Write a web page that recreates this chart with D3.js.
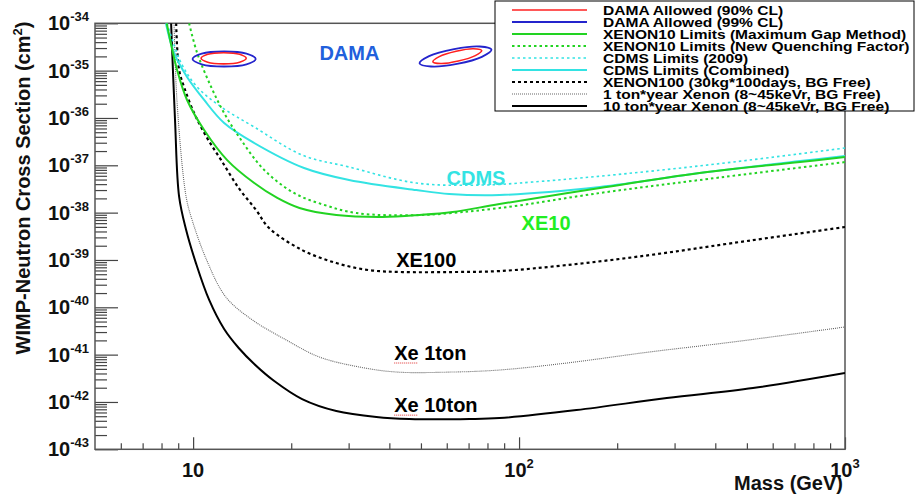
<!DOCTYPE html>
<html><head><meta charset="utf-8">
<script src="https://cdn.jsdelivr.net/npm/d3@7"></script>
<style>
body{margin:0;background:#fff}
svg{display:block;font-family:"Liberation Sans",Arial,Helvetica,sans-serif}
</style>
</head><body>
<svg id="chart" width="917" height="496"></svg>
<script>
// ---------- data (mass in GeV, cross section in cm^2) ----------
const massMajorTicks = [10, 100, 1000];
const massMinorTicks = [6,7,8,9,20,30,40,50,60,70,80,90,200,300,400,500,600,700,800,900];
const massTickLabels = [["10",""],["10","2"],["10","3"]];
const sigmaExponents = [-43,-42,-41,-40,-39,-38,-37,-36,-35,-34];
const sigmaMinorMultipliers = [2,3,4,5,6,7,8,9];

const damaLow90 = [[10.58,1.822e-35],[11.09,2.213e-35],[12.41,2.392e-35],[13.89,2.213e-35],[14.55,1.822e-35],[13.89,1.500e-35],[12.41,1.388e-35],[11.09,1.500e-35]];
const damaLow99 = [[9.96,1.761e-35],[10.63,2.279e-35],[12.45,2.536e-35],[14.58,2.279e-35],[15.56,1.761e-35],[14.58,1.360e-35],[12.45,1.223e-35],[10.63,1.360e-35]];
const damaHigh90 = [[76.8,2.663e-35],[73.4,2.078e-35],[65.1,1.598e-35],[57.5,1.415e-35],[54.4,1.544e-35],[56.9,1.979e-35],[64.1,2.574e-35],[72.5,2.905e-35]];
const damaHigh99 = [[82.3,2.768e-35],[76.9,1.950e-35],[64.5,1.388e-35],[53.7,1.223e-35],[49.5,1.429e-35],[52.95,2.028e-35],[63.2,2.850e-35],[75.8,3.235e-35]];

const xenon10MaxGap = [[8.3,1e-34],[8.93,1.03e-35],[9.58,2.40e-36],[10.81,5.57e-37],[12.72,1.29e-37],[15.4,4.22e-38],[18.12,2.04e-38],[21.2,1.25e-38],[27.5,8.9e-39],[38.1,8.1e-39],[49.5,8.9e-39],[62.5,1.03e-38],[87.1,1.52e-38],[177,3.31e-38],[358,6.87e-38],[728,1.17e-37],[1000,1.50e-37]];
const xenon10NewQF = [[9.72,1e-34],[10.29,2.36e-35],[11.36,4.51e-36],[12.45,1.27e-36],[14.04,3.42e-37],[16.53,7.94e-38],[20.4,2.60e-38],[25.3,1.45e-38],[31.7,9.8e-39],[49.5,8.9e-39],[87.1,1.25e-38],[177,2.60e-38],[358,4.89e-38],[1000,1.17e-37]];
const cdms2009 = [[8.32,1e-34],[9.19,1.45e-35],[10.29,4.51e-36],[12.19,1.71e-36],[15.4,6.44e-37],[21.6,1.65e-37],[30.1,9.2e-38],[48.4,4.22e-38],[77.3,3.83e-38],[110,4.43e-38],[223,6.87e-38],[453,1.17e-37],[1000,2.32e-37]];
const cdmsCombined = [[8.25,1e-34],[8.74,2.36e-35],[9.58,7.33e-36],[10.81,2.40e-36],[12.45,7.82e-37],[15.4,2.96e-37],[21.9,8.77e-38],[30.1,4.89e-38],[48.4,3.00e-38],[61.1,2.48e-38],[87.1,2.36e-38],[177,3.48e-38],[358,6.87e-38],[728,1.23e-37],[1000,1.57e-37]];
const xenon100 = [[8.87,1e-34],[9.06,1.03e-35],[9.38,4.51e-36],[10.07,1.27e-36],[11.04,3.77e-37],[12.19,1.29e-37],[13.8,3.31e-38],[15.6,1.14e-38],[17.1,4.73e-39],[21.6,1.62e-39],[27.5,8.6e-40],[34.7,6.1e-40],[43.9,5.56e-40],[62.5,5.56e-40],[87.1,5.83e-40],[140,7.8e-40],[252,1.27e-39],[453,2.28e-39],[1000,4.97e-39]];
const oneTonXenon = [[8.74,1e-34],[8.93,2.07e-36],[9.52,2.14e-38],[9.93,6.98e-39],[11.0,1.0e-39],[12.6,1.65e-40],[15.2,5.4e-41],[19.3,2.04e-41],[24.4,8.9e-42],[32.4,5.47e-42],[42.0,4.29e-42],[62.5,4.29e-42],[87.1,4.73e-42],[140,6.65e-42],[252,1.14e-41],[453,1.85e-41],[1000,3.84e-41]];
const tenTonXenon = [[8.56,1e-34],[8.80,9.06e-37],[9.06,2.14e-38],[9.52,4.29e-39],[10.2,8.6e-40],[11.2,1.43e-40],[12.45,3.48e-41],[13.8,1.38e-41],[15.4,6.34e-42],[17.74,2.77e-42],[21.6,1.15e-42],[27.5,6.43e-43],[36.5,4.80e-43],[46.1,4.36e-43],[70.5,4.36e-43],[87.1,4.57e-43],[150,6.75e-43],[284,1.21e-42],[522,1.97e-42],[1000,4.08e-42]];

const legendLabels = [
  "DAMA Allowed (90% CL)",
  "DAMA Allowed (99% CL)",
  "XENON10 Limits (Maximum Gap Method)",
  "XENON10 Limits (New Quenching Factor)",
  "CDMS Limits (2009)",
  "CDMS Limits (Combined)",
  "XENON100 (30kg*100days, BG Free)",
  "1 ton*year Xenon (8~45keVr, BG Free)",
  "10 ton*year Xenon (8~45keVr, BG Free)"
];
const annotationTexts = ["DAMA","CDMS","XE10","XE100","Xe 1ton","Xe 10ton"];
const annotationAnchors = [[24.4,1.68e-35],[59.9,3.84e-38],[101.8,4.29e-39],[42.0,7.1e-40],[41.4,7.7e-42],[41.4,6.1e-43]];

// ---------- styles ----------
const RED="#ff2020", BLUE="#2424cc", GREEN="#22d322", CYAN="#33e3e3", BLACK="#000", GRAY="#666";
const styles = [
  {stroke:RED, w:1.6, dash:null},
  {stroke:BLUE, w:1.8, dash:null},
  {stroke:GREEN, w:2, dash:null},
  {stroke:GREEN, w:2, dash:"2.5,3"},
  {stroke:CYAN, w:1.6, dash:"2.5,3"},
  {stroke:CYAN, w:2, dash:null},
  {stroke:BLACK, w:2.2, dash:"3,3"},
  {stroke:GRAY, w:1.1, dash:"1,1"},
  {stroke:BLACK, w:2, dash:null}
];
const annotationColors = ["#2160dc", CYAN, "#22ee22", BLACK, BLACK, BLACK];

// ---------- scales ----------
const L=95, R=845, T=23.3, B=449.3;
const x = d3.scaleLog().domain([5,1000]).range([L,R]);
const y = d3.scaleLog().domain([1e-43,1e-34]).range([B,T]);

const svg = d3.select("#chart");
svg.append("rect").attr("width",917).attr("height",496).attr("fill","#fff");

svg.append("defs").append("clipPath").attr("id","plotclip")
  .append("rect").attr("x",L).attr("y",T).attr("width",R-L).attr("height",B-T);

// axes ticks
const tickColor="#444";
const xMajor = svg.append("g").attr("transform",`translate(0,${B})`)
  .call(d3.axisBottom(x).tickValues(massMajorTicks).tickSizeInner(-12).tickSizeOuter(0).tickFormat(""));
const xMinor = svg.append("g").attr("transform",`translate(0,${B})`)
  .call(d3.axisBottom(x).tickValues(massMinorTicks).tickSizeInner(-6).tickSizeOuter(0).tickFormat(""));
const sigmaMajor = sigmaExponents.map(e=>Math.pow(10,e));
const sigmaMinor = [];
sigmaExponents.slice(0,-1).forEach(e=>sigmaMinorMultipliers.forEach(m=>sigmaMinor.push(m*Math.pow(10,e))));
const yMajor = svg.append("g").attr("transform",`translate(${L},0)`)
  .call(d3.axisLeft(y).tickValues(sigmaMajor).tickSizeInner(-23).tickSizeOuter(0).tickFormat(""));
const yMinor = svg.append("g").attr("transform",`translate(${L},0)`)
  .call(d3.axisLeft(y).tickValues(sigmaMinor).tickSizeInner(-12).tickSizeOuter(0).tickFormat(""));
[xMajor,xMinor,yMajor,yMinor].forEach(g=>{
  g.select(".domain").remove();
  g.selectAll("line").attr("stroke",tickColor).attr("stroke-width",1.2);
});

// frame
const frame = svg.append("g").attr("fill","none").attr("stroke","#555").attr("stroke-width",1.5);
frame.append("rect").attr("x",L).attr("y",T).attr("width",R-L).attr("height",B-T);

// tick labels
const xl = svg.append("g").attr("font-weight","bold").attr("fill","#111");
massMajorTicks.forEach((v,i)=>{
  const t = xl.append("text").attr("x",x(v)).attr("y",477).attr("text-anchor","middle").attr("font-size",20);
  t.append("tspan").text(massTickLabels[i][0]);
  if(massTickLabels[i][1]) t.append("tspan").attr("dy",-9).attr("font-size",13).text(massTickLabels[i][1]);
});
sigmaExponents.forEach(e=>{
  const t = xl.append("text").attr("x",89).attr("y",y(Math.pow(10,e))+7).attr("text-anchor","end").attr("font-size",20);
  t.append("tspan").text("10");
  t.append("tspan").attr("dy",-9).attr("font-size",13).text(String(e));
});

// axis titles
svg.append("text").attr("x",843).attr("y",490).attr("text-anchor","end")
  .attr("font-size",20).attr("font-weight","bold").attr("fill","#111").text("Mass (GeV)");
const yt = svg.append("text").attr("transform","translate(30,188) rotate(-90)").attr("text-anchor","middle")
  .attr("font-size",20).attr("font-weight","bold").attr("fill","#111");
yt.append("tspan").text("WIMP-Neutron Cross Section (cm");
yt.append("tspan").attr("dy",-8).attr("font-size",13).text("2");
yt.append("tspan").attr("dy",8).text(")");

// curves
const plot = svg.append("g").attr("clip-path","url(#plotclip)");
const line = d3.line().x(d=>x(d[0])).y(d=>y(d[1])).curve(d3.curveCatmullRom.alpha(0.5));
const closed = d3.line().x(d=>x(d[0])).y(d=>y(d[1])).curve(d3.curveCatmullRomClosed.alpha(0.5));

const curves = [
  [tenTonXenon, 8],[oneTonXenon, 7],[xenon100, 6],
  [cdms2009, 4],[cdmsCombined, 5],[xenon10NewQF, 3],[xenon10MaxGap, 2]
];
curves.forEach(([data,si])=>{
  const s = styles[si];
  plot.append("path").attr("d",line(data)).attr("fill","none")
    .attr("stroke",s.stroke).attr("stroke-width",s.w)
    .attr("stroke-dasharray",s.dash).attr("stroke-linejoin","round");
});
[[damaLow99,1],[damaHigh99,1],[damaLow90,0],[damaHigh90,0]].forEach(([data,si])=>{
  const s = styles[si];
  plot.append("path").attr("d",closed(data)).attr("fill","none")
    .attr("stroke",s.stroke).attr("stroke-width",s.w);
});

// annotations
annotationTexts.forEach((txt,i)=>{
  const a = annotationAnchors[i];
  svg.append("text").attr("x",x(a[0])).attr("y",y(a[1]))
    .attr("font-size",20).attr("font-weight","bold").attr("fill",annotationColors[i]).text(txt);
  if(txt.startsWith("Xe ")){
    svg.append("line").attr("x1",x(a[0])).attr("x2",x(a[0])+24)
      .attr("y1",y(a[1])+3).attr("y2",y(a[1])+3)
      .attr("stroke","#e03030").attr("stroke-width",1).attr("stroke-dasharray","1,1");
  }
});

// legend
const lg = svg.append("g");
lg.append("rect").attr("x",495).attr("y",1).attr("width",419).attr("height",110)
  .attr("fill","#fff").attr("stroke","#000").attr("stroke-width",1);
const texts = [];
legendLabels.forEach((lab,i)=>{
  const yy = 10 + 12*i;
  const s = styles[i];
  lg.append("line").attr("x1",512).attr("x2",587).attr("y1",yy).attr("y2",yy)
    .attr("stroke",s.stroke).attr("stroke-width",s.w).attr("stroke-dasharray",s.dash);
  const t = lg.append("text").attr("transform",`translate(603,${yy+4.5})`)
    .attr("font-size",12).attr("font-weight","bold").attr("fill","#000").text(lab);
  texts.push(t);
});
const widest = d3.max(texts, t=>t.node().getComputedTextLength());
const k = 307/widest;
texts.forEach((t,i)=>t.attr("transform",`translate(603,${10+12*i+4.5}) scale(${k},1)`));
</script>
</body></html>
